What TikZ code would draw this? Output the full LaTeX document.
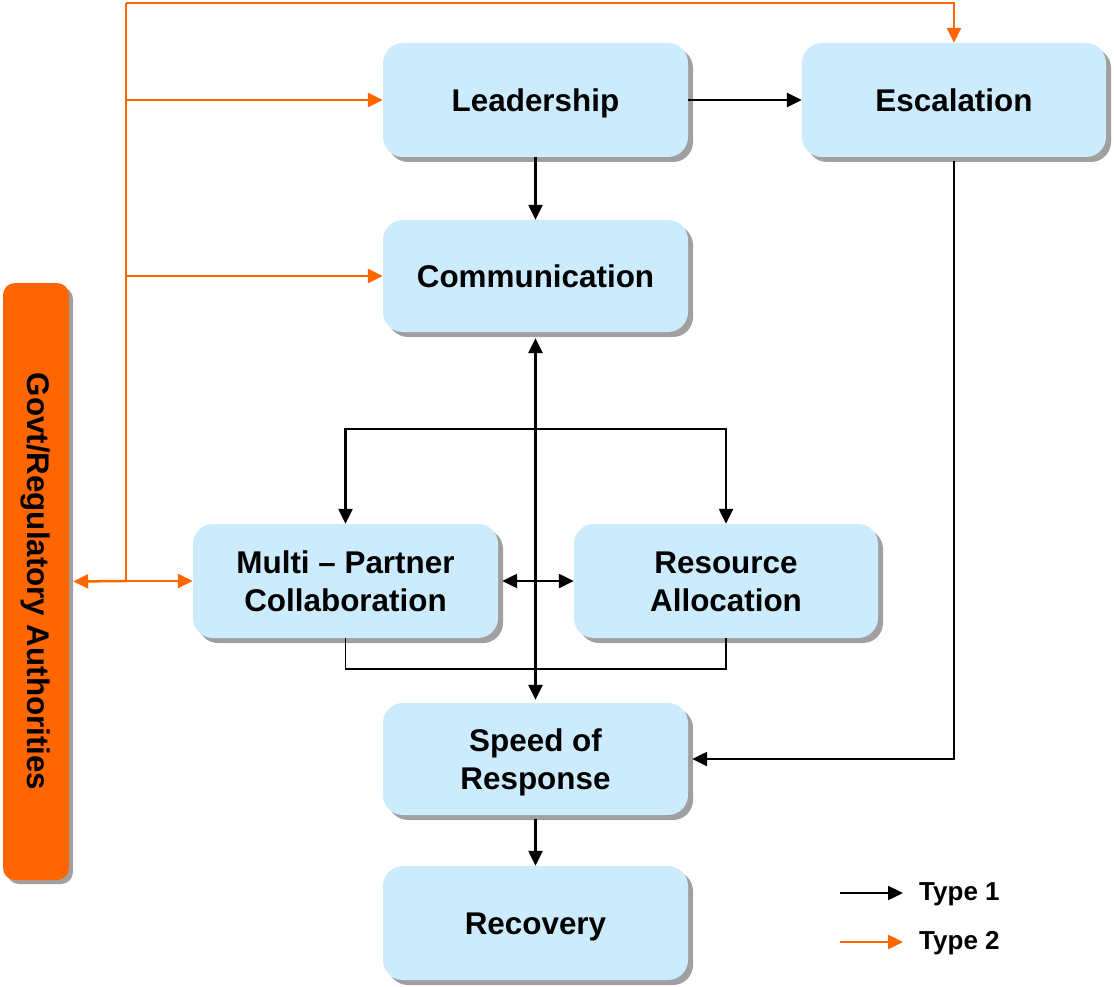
\documentclass[tikz,border=0pt]{standalone}
\usepackage{fontspec}
\setmainfont{Liberation Sans}
\usetikzlibrary{arrows.meta,shadows}
\definecolor{boxblue}{HTML}{CCEBFC}
\definecolor{orng}{HTML}{FF6600}
\definecolor{shadowgray}{HTML}{A0A0A0}
\tikzset{
  blk/.style={rounded corners=20pt, fill=boxblue, draw=none, inner sep=0pt, align=center,
    font=\fontsize{31.4}{38}\selectfont\bfseries, text height=22.5pt, text depth=0pt,
    drop shadow={shadow xshift=5pt, shadow yshift=-5pt, fill=shadowgray, opacity=1}},
  twoline/.style={text height=60.5pt, text depth=0pt},
  govbox/.style={rounded corners=12pt, fill=orng, draw=none, inner sep=0pt,
    font=\fontsize{31.3}{36}\selectfont\bfseries,
    drop shadow={shadow xshift=4pt, shadow yshift=-4pt, fill=shadowgray, opacity=1}},
  legtext/.style={font=\fontsize{26}{30}\selectfont\bfseries, inner sep=0pt},
  tipa/.tip={Triangle[length=15pt,width=14pt]},
  ar/.style={line width=2.4pt, draw=black, -tipa},
  dar/.style={line width=2.8pt, draw=black, tipa-tipa},
  bus/.style={line width=1.8pt, draw=black},
  oln/.style={line width=2.5pt, draw=orng},
  oar/.style={line width=2.5pt, draw=orng, -tipa},
}
\begin{document}
\begin{tikzpicture}[x=1pt,y=-1pt]
\useasboundingbox (0,0) rectangle (1114,987);

% boxes
\node[blk, minimum width=305pt, minimum height=114pt] (lead) at (535.5,100) {Leadership};
\node[blk, minimum width=304pt, minimum height=114pt] (esc) at (954,100) {Escalation};
\node[blk, minimum width=305pt, minimum height=112pt] (comm) at (535.5,276) {Communication};
\node[blk, twoline, minimum width=305pt, minimum height=114pt] (multi) at (345.5,581) {Multi -- Partner\\Collaboration};
\node[blk, twoline, minimum width=304pt, minimum height=114pt] (res) at (726,581) {Resource\\Allocation};
\node[blk, twoline, minimum width=305pt, minimum height=112pt] (speed) at (535.5,759) {Speed of\\Response};
\node[blk, minimum width=305pt, minimum height=114pt] (recov) at (535.5,923) {Recovery};
\node[govbox, minimum width=66pt, minimum height=597pt] (govt) at (36,581.5) {\rotatebox{-90}{Govt/Regulatory Authorities}};

% black connectors
\draw[ar] (lead.east) -- (esc.west);
\draw[ar] (lead.south) -- (comm.north);
\draw[dar] ([yshift=-6pt]comm.south) -- ([yshift=3pt]speed.north);
\coordinate (busc) at (535.5,429);
\draw[ar] (busc) -| (multi.north);
\draw[ar] (busc) -| (res.north);
\draw[dar, line width=2.4pt] ([xshift=4pt]multi.east) -- (res.west);
\draw[bus] (multi.south) -- ++(0,31) -| (res.south);
\draw[ar] ([yshift=-4pt]esc.south) |- ([xshift=4pt]speed.east);
\draw[ar] ([yshift=-4pt]speed.south) -- (recov.north);

% orange connectors
\coordinate (otop) at (126,3);
\coordinate (obot) at (126,581);
\draw[oln] (obot) -- (otop);
\draw[oar] (otop) -| (esc.north);
\draw[oar] (otop |- lead.west) -- (lead.west);
\draw[oar] (otop |- comm.west) -- (comm.west);
\draw[oar] (obot) -- (multi.west);
\draw[oar] (obot) -- ([xshift=4pt]govt.east);

% legend
\coordinate (l1s) at (840,893);
\coordinate (l1e) at (903,893);
\coordinate (l2s) at (840,942);
\coordinate (l2e) at (903,942);
\draw[ar] (l1s) -- (l1e);
\draw[oar] (l2s) -- (l2e);
\node[legtext, anchor=west] (t1) at (919,894) {Type 1};
\node[legtext, anchor=west] (t2) at (919,943) {Type 2};
\end{tikzpicture}
\end{document}
